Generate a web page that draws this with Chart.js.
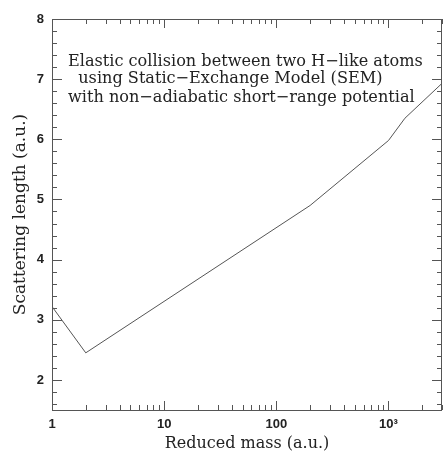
<!DOCTYPE html>
<html>
<head>
<meta charset="utf-8">
<script src="https://cdn.jsdelivr.net/npm/chart.js@4"></script>
<style>
html,body{margin:0;padding:0;background:#fff;}
#wrap{width:443px;height:452px;}
</style>
</head>
<body>
<div id="wrap"><canvas id="c" width="443" height="452"></canvas></div>
<script>
// Data
const reducedMass = [1, 2, 200, 1000, 1400, 3000];
const scatteringLength = [3.22, 2.45, 4.9, 5.98, 6.35, 6.93];
const xTickValues = [1, 10, 100, 1000];
const xTickLabels = ['1', '10', '100', '10\u00B3'];
const yTickValues = [2, 3, 4, 5, 6, 7, 8];
const annotationLines = [
  'Elastic collision between two H\u2212like atoms',
  '  using Static\u2212Exchange Model (SEM)',
  'with non\u2212adiabatic short\u2212range potential'
];

const serif = '"DejaVu Serif", "Liberation Serif", serif';
const sans = '"Liberation Sans", "DejaVu Sans", sans-serif';

const framePlugin = {
  id: 'frame',
  afterDraw(chart) {
    const {ctx, chartArea: a, scales} = chart;
    const xs = scales.x, ys = scales.y;
    ctx.save();
    ctx.strokeStyle = '#555';
    ctx.lineWidth = 1;
    ctx.strokeRect(Math.round(a.left) + 0.5, Math.round(a.top) + 0.5,
      Math.round(a.right - a.left) - 1, Math.round(a.bottom - a.top));
    ctx.beginPath();
    for (let d = 1; d <= 1000; d *= 10) {
      for (let m = 1; m <= 9; m++) {
        const v = d * m;
        if (v > 3000) break;
        const px = Math.round(xs.getPixelForValue(v)) + 0.5;
        const len = (m === 1) ? 9 : 5;
        ctx.moveTo(px, a.bottom); ctx.lineTo(px, a.bottom - len);
        ctx.moveTo(px, a.top); ctx.lineTo(px, a.top + len);
      }
    }
    for (let i = 8; i <= 40; i++) {
      const v = i / 5;
      if (v < 1.5 || v > 8) continue;
      const py = Math.round(ys.getPixelForValue(v)) + 0.5;
      const len = (i % 5 === 0) ? 10 : 5;
      ctx.moveTo(a.left, py); ctx.lineTo(a.left + len, py);
      ctx.moveTo(a.right, py); ctx.lineTo(a.right - len, py);
    }
    ctx.stroke();

    ctx.fillStyle = '#222';
    ctx.textBaseline = 'middle';
    ctx.textAlign = 'left';
    let size = 14;
    ctx.font = size + 'px ' + serif;
    const w = ctx.measureText(annotationLines[0]).width;
    size = size * 355 / w;
    ctx.font = size.toFixed(2) + 'px ' + serif;
    const ys0 = [61.5, 79, 98];
    annotationLines.forEach((t, i) => {
      ctx.fillText(t, 68, ys0[i]);
    });
    ctx.restore();
  }
};

new Chart(document.getElementById('c'), {
  type: 'line',
  data: {
    datasets: [{
      data: reducedMass.map((x, i) => ({x: x, y: scatteringLength[i]})),
      borderColor: '#555',
      borderWidth: 1,
      pointRadius: 0,
      tension: 0,
      fill: false
    }]
  },
  options: {
    responsive: false,
    animation: false,
    layout: {padding: {top: 19, right: 1, left: 0, bottom: 0}},
    plugins: {legend: {display: false}, tooltip: {enabled: false}},
    scales: {
      x: {
        type: 'logarithmic',
        min: 1,
        max: 3000,
        grid: {display: false, drawTicks: false},
        border: {display: false},
        afterBuildTicks(scale) { scale.ticks = xTickValues.map(v => ({value: v})); },
        afterFit(scale) { scale.height = 42; },
        ticks: {
          autoSkip: false,
          maxRotation: 0,
          padding: 7,
          color: '#222',
          font: {family: sans, size: 13, weight: 'bold'},
          callback(value) {
            const i = xTickValues.indexOf(value);
            return i >= 0 ? xTickLabels[i] : '';
          }
        },
        title: {
          display: true,
          text: 'Reduced mass (a.u.)',
          color: '#222',
          font: {family: serif, size: 16, lineHeight: 1},
          padding: {top: 0, bottom: 0}
        }
      },
      y: {
        type: 'linear',
        min: 1.5,
        max: 8,
        grid: {display: false, drawTicks: false},
        border: {display: false},
        afterBuildTicks(scale) { scale.ticks = yTickValues.map(v => ({value: v})); },
        afterFit(scale) { scale.width = 52; },
        ticks: {
          padding: 8,
          color: '#222',
          font: {family: sans, size: 13, weight: 'bold'},
          callback(value) { return String(value); }
        },
        title: {
          display: true,
          text: 'Scattering length (a.u.)',
          color: '#222',
          font: {family: serif, size: 17, lineHeight: 1},
          padding: {top: 12, bottom: 0}
        }
      }
    }
  },
  plugins: [framePlugin]
});
</script>
</body>
</html>
